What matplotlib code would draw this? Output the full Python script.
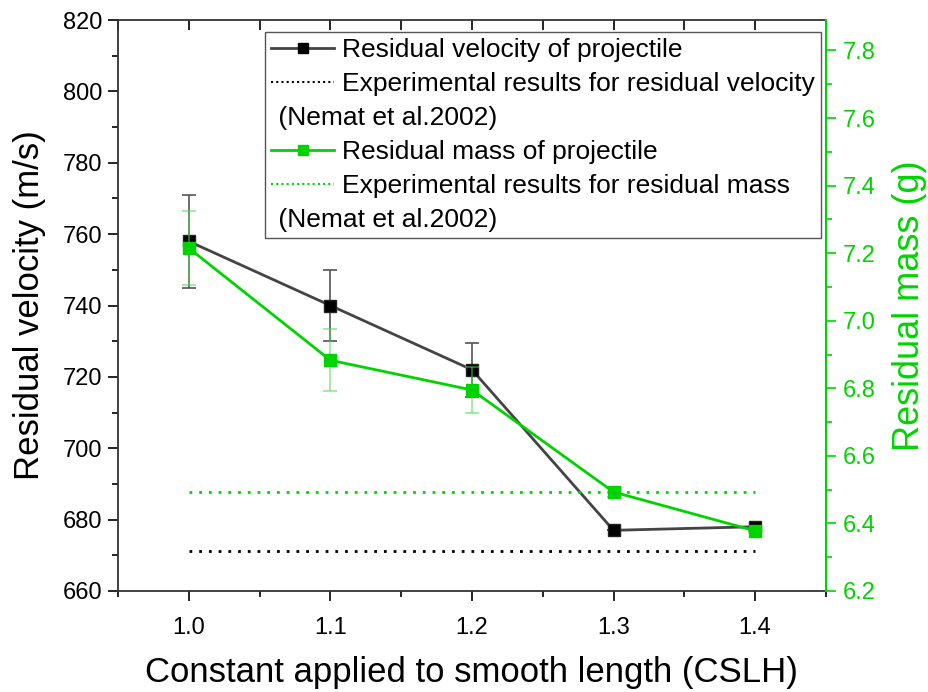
import matplotlib
matplotlib.use("Agg")
import matplotlib.pyplot as plt
from matplotlib.lines import Line2D
from matplotlib.ticker import MultipleLocator

plt.rcParams['font.family'] = ['Liberation Sans', 'DejaVu Sans']

# ---- data ----
cslh = [1.0, 1.1, 1.2, 1.3, 1.4]
velocity = [758, 740, 722, 677, 678]
velocity_err = [13, 10, 7.5, 0, 0]
mass = [7.215, 6.883, 6.795, 6.493, 6.378]
mass_err = [0.11, 0.092, 0.068, 0.015, 0.0]
exp_velocity = 671.2
exp_mass = 6.492
exp_x = [1.0, 1.4]
x_ticks = [1.0, 1.1, 1.2, 1.3, 1.4]
x_ticklabels = ['1.0', '1.1', '1.2', '1.3', '1.4']
m_ticks = [6.2, 6.4, 6.6, 6.8, 7.0, 7.2, 7.4, 7.6, 7.8]
m_ticklabels = ['6.2', '6.4', '6.6', '6.8', '7.0', '7.2', '7.4', '7.6', '7.8']

GREEN = '#00d400'
LINE_GRAY = '#444444'
DPI = 100

fig = plt.figure(figsize=(9.29, 6.92), dpi=DPI)
ax = fig.add_axes([0.127, 0.146, 0.762, 0.825])
ax2 = ax.twinx()

# velocity series
ax.errorbar(cslh, velocity, yerr=velocity_err, color=LINE_GRAY, lw=2,
            marker='s', ms=8.5, mfc='black', mec='#222222',
            ecolor='#555555', elinewidth=1.2, capsize=5, capthick=1.2, zorder=3)
ax.plot(exp_x, [exp_velocity, exp_velocity], color='black', lw=2,
        linestyle=(0, (1, 2.5)), zorder=2)

# mass series
ax2.errorbar(cslh, mass, yerr=mass_err, color=GREEN, lw=2,
             marker='s', ms=8.5, mfc=GREEN, mec=GREEN,
             ecolor=(0.3, 0.85, 0.3, 0.6), elinewidth=1.2, capsize=5, capthick=1.2, zorder=3)
ax2.plot(exp_x, [exp_mass, exp_mass], color=GREEN, lw=2,
         linestyle=(0, (1, 2.5)), zorder=2)

# axes limits and ticks
ax.set_xlim(0.95, 1.45)
ax.set_ylim(660, 820)
ax2.set_ylim(6.2, 7.89)

ax.xaxis.set_major_locator(MultipleLocator(0.1))
ax.xaxis.set_minor_locator(MultipleLocator(0.05))
ax.yaxis.set_major_locator(MultipleLocator(20))
ax.yaxis.set_minor_locator(MultipleLocator(10))
ax2.yaxis.set_major_locator(MultipleLocator(0.2))
ax2.yaxis.set_minor_locator(MultipleLocator(0.1))

ax.set_xticks(x_ticks)
ax.set_xticklabels(x_ticklabels)
ax2.set_yticks(m_ticks)
ax2.set_yticklabels(m_ticklabels)

TICK_FS = 17
ax.tick_params(axis='x', which='major', direction='out', length=7, width=1.2,
               labelsize=TICK_FS, pad=12, top=True)
ax.tick_params(axis='x', which='minor', direction='out', length=4, width=1.2, top=True)
ax.tick_params(axis='y', which='major', direction='out', length=7, width=1.2,
               labelsize=TICK_FS, colors='black', pad=4)
ax.tick_params(axis='y', which='minor', direction='out', length=4, width=1.2)
ax2.tick_params(axis='y', which='major', direction='out', length=7, width=1.2,
                labelsize=TICK_FS, colors=GREEN, pad=5)
ax2.tick_params(axis='y', which='minor', direction='out', length=4, width=1.2, colors=GREEN)

# top ticks point inward
for t in ax.xaxis.get_major_ticks() + ax.xaxis.get_minor_ticks():
    t.tick2line.set_marker(3)  # TICKDOWN
    t.tick2line.set_markersize(7)

for sp in ['left', 'bottom', 'top']:
    ax.spines[sp].set_color('#333333')
    ax.spines[sp].set_linewidth(1.3)
ax2.spines['right'].set_color(GREEN)
ax2.spines['right'].set_linewidth(1.5)
for sp in ['left', 'bottom', 'top']:
    ax2.spines[sp].set_visible(False)
ax.spines['right'].set_visible(False)

ax.set_xlabel('Constant applied to smooth length (CSLH)', fontsize=25, labelpad=12)
ax.set_ylabel('Residual velocity (m/s)', fontsize=25, labelpad=12)
ax2.set_ylabel('Residual mass (g)', fontsize=26, color=GREEN, labelpad=12)

# legend
LEG_FS = 19
HL = 2.4
HTP = 0.3
h_vel = Line2D([], [], color=LINE_GRAY, lw=2, marker='s', ms=7, mfc='black', mec='black')
h_vexp = Line2D([], [], color='black', lw=1.5, linestyle=(0, (1, 1.5)))
h_mass = Line2D([], [], color=GREEN, lw=2, marker='s', ms=7, mfc=GREEN, mec=GREEN)
h_mexp = Line2D([], [], color=GREEN, lw=1.5, linestyle=(0, (1, 1.5)))
h_blank = Line2D([], [], linestyle='none')
handles = [h_vel, h_vexp, h_blank, h_mass, h_mexp, h_blank]
labels = ['Residual velocity of projectile',
          'Experimental results for residual velocity',
          ' (Nemat et al.2002)',
          'Residual mass of projectile',
          'Experimental results for residual mass',
          ' (Nemat et al.2002)']
leg = ax2.legend(handles, labels, loc='upper right', bbox_to_anchor=(0.993, 0.979),
                 borderaxespad=0, fontsize=LEG_FS, frameon=True, fancybox=False,
                 edgecolor='#555555', framealpha=1, handlelength=HL,
                 handletextpad=HTP, labelspacing=0.38, borderpad=0.22)
leg.get_frame().set_linewidth(1.0)
shift_px = (HL + HTP) * LEG_FS * DPI / 72.0
for i in (2, 5):
    leg.get_texts()[i].set_position((-shift_px, 0))

fig.savefig('out.png', dpi=DPI)
